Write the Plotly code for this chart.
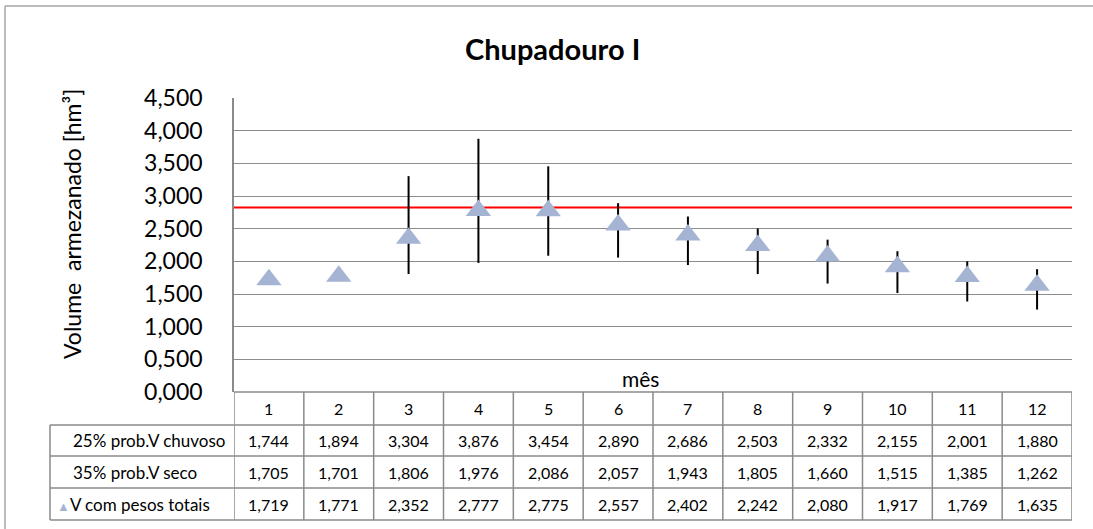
import plotly.graph_objects as go

months = [1, 2, 3, 4, 5, 6, 7, 8, 9, 10, 11, 12]
v_chuvoso = [1.744, 1.894, 3.304, 3.876, 3.454, 2.890, 2.686, 2.503, 2.332, 2.155, 2.001, 1.880]
v_seco = [1.705, 1.701, 1.806, 1.976, 2.086, 2.057, 1.943, 1.805, 1.660, 1.515, 1.385, 1.262]
v_total = [1.719, 1.771, 2.352, 2.777, 2.775, 2.557, 2.402, 2.242, 2.080, 1.917, 1.769, 1.635]
row_labels = ["25% prob.V chuvoso", "35% prob.V seco", "V com pesos totais"]
ref_volume = 2.825
title = "Chupadouro I"
y_title = "Volume  armezanado [hm³]"
x_title = "mês"

W, H = 1093, 529
L, R, T, B = 234, 1072, 98, 392
FONT = "Lato"
GRID = "#8c8c8c"
TABLE = "#8a8a8a"
MARK = "#A6B4D4"


def px_x(px):
    return (px - L) / (R - L)


def px_y(py):
    return (B - py) / (B - T)


def fmt(v):
    return f"{v:.3f}".replace(".", ",")


fig = go.Figure()
fig.add_trace(go.Scatter(
    x=months, y=v_total, mode="markers",
    marker=dict(symbol="triangle-up", size=22, color=MARK, line=dict(width=0)),
    error_y=dict(type="data", symmetric=False,
                 array=[h - v for h, v in zip(v_chuvoso, v_total)],
                 arrayminus=[v - l for l, v in zip(v_seco, v_total)],
                 color="black", thickness=2, width=0),
    showlegend=False, hoverinfo="skip"))

shapes = []
shapes.append(dict(type="line", xref="paper", x0=0, x1=1, yref="y", y0=ref_volume, y1=ref_volume,
                   line=dict(color="#FF0000", width=2), layer="between"))
row_edges = [392, 425, 456, 488, 520]
shapes.append(dict(type="line", xref="paper", yref="paper", x0=0, x1=1, y0=px_y(392), y1=px_y(392),
                   line=dict(color=TABLE, width=1.5)))
for py in row_edges[1:]:
    shapes.append(dict(type="line", xref="paper", yref="paper", x0=px_x(50), x1=1, y0=px_y(py), y1=px_y(py),
                       line=dict(color=TABLE, width=1.5)))
for k in range(len(months) + 1):
    xb = months[0] - 0.5 + k
    shapes.append(dict(type="line", xref="x", yref="paper", x0=xb, x1=xb, y0=px_y(392), y1=px_y(520),
                       line=dict(color=TABLE, width=1.5)))
shapes.append(dict(type="line", xref="paper", yref="paper", x0=px_x(50), x1=px_x(50), y0=px_y(425), y1=px_y(520),
                   line=dict(color=TABLE, width=1.5)))
shapes.append(dict(type="line", xref="paper", yref="paper", x0=px_x(5), x1=px_x(5), y0=px_y(6), y1=px_y(529),
                   line=dict(color="#a6a6a6", width=1.5)))
shapes.append(dict(type="line", xref="paper", yref="paper", x0=px_x(5), x1=px_x(1093), y0=px_y(6), y1=px_y(6),
                   line=dict(color="#a6a6a6", width=1.5)))

ann = []
tf = dict(family=FONT, size=16, color="black")
for m in months:
    ann.append(dict(x=m, xref="x", y=px_y(408.5), yref="paper", text=str(m), showarrow=False,
                    font=tf, xanchor="center", yanchor="middle"))
row_centers = [440.5, 472, 504]
for vals, yc in zip([v_chuvoso, v_seco, v_total], row_centers):
    for m, v in zip(months, vals):
        ann.append(dict(x=m, xref="x", y=px_y(yc), yref="paper", text=fmt(v), showarrow=False,
                        font=tf, xanchor="center", yanchor="middle"))
lf = dict(family=FONT, size=17, color="black")
ann.append(dict(x=px_x(71), xref="paper", y=px_y(row_centers[0]), yref="paper", text=row_labels[0],
                showarrow=False, font=lf, xanchor="left", yanchor="middle"))
ann.append(dict(x=px_x(71), xref="paper", y=px_y(row_centers[1]), yref="paper", text=row_labels[1],
                showarrow=False, font=lf, xanchor="left", yanchor="middle"))
ann.append(dict(x=px_x(55), xref="paper", y=px_y(row_centers[2]), yref="paper",
                text=f"<span style='color:{MARK};font-size:13px'>▲</span>" + row_labels[2],
                showarrow=False, font=lf, xanchor="left", yanchor="middle"))
ann.append(dict(x=px_x(552), xref="paper", y=px_y(49), yref="paper", text=f"<b>{title}</b>",
                showarrow=False, font=dict(family=FONT, size=29, color="black"),
                xanchor="center", yanchor="middle"))
ann.append(dict(x=px_x(640), xref="paper", y=px_y(378), yref="paper", text=x_title,
                showarrow=False, font=dict(family=FONT, size=21, color="black"),
                xanchor="center", yanchor="middle"))
ann.append(dict(x=px_x(72), xref="paper", y=px_y(224), yref="paper", text=y_title, textangle=-90,
                showarrow=False, font=dict(family=FONT, size=23, color="black"),
                xanchor="center", yanchor="middle"))

fig.update_layout(
    width=W, height=H,
    margin=dict(l=L, r=W - R, t=T, b=H - B, pad=0),
    paper_bgcolor="white", plot_bgcolor="white",
    separators=",.",
    font=dict(family=FONT, color="black"),
    xaxis=dict(range=[months[0] - 0.5, months[-1] + 0.5], showgrid=False, zeroline=False,
               showticklabels=False, showline=False, ticks=""),
    yaxis=dict(range=[0, 4.5], dtick=0.5, tick0=0, tickformat=".3f", showgrid=True,
               gridcolor=GRID, gridwidth=1, zeroline=False, showline=True, linecolor=TABLE,
               linewidth=1.5, ticks="", ticklabelstandoff=25,
               tickfont=dict(family=FONT, size=23, color="black")),
    shapes=shapes, annotations=ann,
)

fig.write_html("out.html", config={"displayModeBar": False},
               post_script=("document.documentElement.style.overflow='hidden';"
                            "document.body.style.overflow='hidden';"
                            "document.body.style.margin='0';"))
